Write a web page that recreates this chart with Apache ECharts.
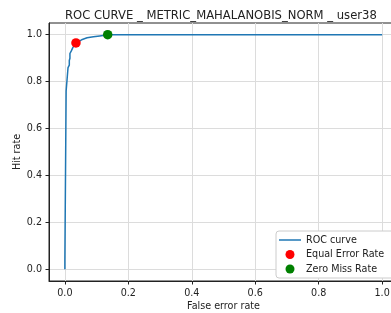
<!DOCTYPE html>
<html>
<head>
<meta charset="utf-8">
<script src="https://cdn.jsdelivr.net/npm/echarts@6/dist/echarts.min.js"></script>
<style>
  html, body { margin: 0; padding: 0; background: #fff; overflow: hidden; }
  #main { width: 440px; height: 313px; }
</style>
</head>
<body>
<div id="main"></div>
<script>
// ROC curve points [false error rate, hit rate]
var rocPoints = [
  [0, 0], [0, 0.04], [0.004, 0.04], [0.004, 0.76], [0.01, 0.76], [0.01, 0.86],
  [0.014, 0.87], [0.014, 0.89], [0.016, 0.9], [0.016, 0.92], [0.02, 0.93],
  [0.025, 0.945], [0.035, 0.962], [0.045, 0.972], [0.055, 0.98], [0.07, 0.987],
  [0.09, 0.991], [0.11, 0.995], [0.135, 1.0], [1, 1]
];
var eerPoint = [[0.035, 0.965]];
var zeroMissPoint = [[0.135, 1.0]];
var tickValues = [0, 0.2, 0.4, 0.6, 0.8, 1.0];

var chart = echarts.init(document.getElementById('main'));
var font = 'DejaVu Sans';
var ink = '#222';
var gridColor = '#dcdcdc';

// grid lines only at the labelled ticks
var gridLines = [];
tickValues.forEach(function (v) {
  gridLines.push({ xAxis: v });
  gridLines.push({ yAxis: v });
});

function axis(name, gap) {
  return {
    type: 'value', min: -0.05, max: 1.05,
    name: name, nameLocation: 'middle', nameGap: gap, nameMoveOverlap: false,
    nameTextStyle: { fontSize: 9.6, color: ink, fontFamily: font },
    axisLine: { show: true, onZero: false, lineStyle: { color: ink } },
    axisTick: { show: true, length: 3.5, customValues: tickValues, lineStyle: { color: ink } },
    axisLabel: { fontSize: 9.6, color: ink, margin: 7, customValues: tickValues,
      formatter: function (v) { return v.toFixed(1); } },
    splitLine: { show: false }
  };
}

chart.setOption({
  animation: false,
  textStyle: { fontFamily: font },
  title: {
    text: 'ROC CURVE _ METRIC_MAHALANOBIS_NORM _ user38',
    left: 60, top: 5,
    textStyle: { fontSize: 11.6, fontWeight: 'normal', color: ink, fontFamily: font }
  },
  legend: {
    orient: 'vertical',
    left: 276, top: 231,
    backgroundColor: '#fff',
    borderColor: '#ccc', borderWidth: 1, borderRadius: 3,
    padding: [4, 20, 4, 3],
    itemGap: 4.5, itemWidth: 22, itemHeight: 9,
    textStyle: { fontSize: 9.6, color: ink, fontFamily: font },
    data: [
      { name: 'ROC curve', icon: 'path://M0,4L22,4L22,5.5L0,5.5Z' },
      { name: 'Equal Error Rate', icon: 'circle' },
      { name: 'Zero Miss Rate', icon: 'circle' }
    ]
  },
  grid: {
    left: 49, top: 23, width: 349, height: 258,
    outerBoundsMode: 'none',
    show: true, borderColor: ink, borderWidth: 1
  },
  xAxis: axis('False error rate', 20),
  yAxis: axis('Hit rate', 27),
  series: [
    {
      name: 'grid', type: 'line', data: [], silent: true, z: 0,
      markLine: {
        silent: true, symbol: 'none', animation: false, z: 0,
        label: { show: false },
        lineStyle: { color: gridColor, type: 'solid', width: 1 },
        data: gridLines
      }
    },
    {
      name: 'ROC curve', type: 'line', data: rocPoints, z: 5,
      showSymbol: false, symbol: 'none',
      lineStyle: { color: '#1f77b4', width: 1.5 },
      itemStyle: { color: '#1f77b4' }
    },
    {
      name: 'Equal Error Rate', type: 'scatter', data: eerPoint, z: 6,
      symbolSize: 9.5, itemStyle: { color: '#ff0000', opacity: 1 }
    },
    {
      name: 'Zero Miss Rate', type: 'scatter', data: zeroMissPoint, z: 6,
      symbolSize: 9.5, itemStyle: { color: '#008000', opacity: 1 }
    }
  ]
});
</script>
</body>
</html>
